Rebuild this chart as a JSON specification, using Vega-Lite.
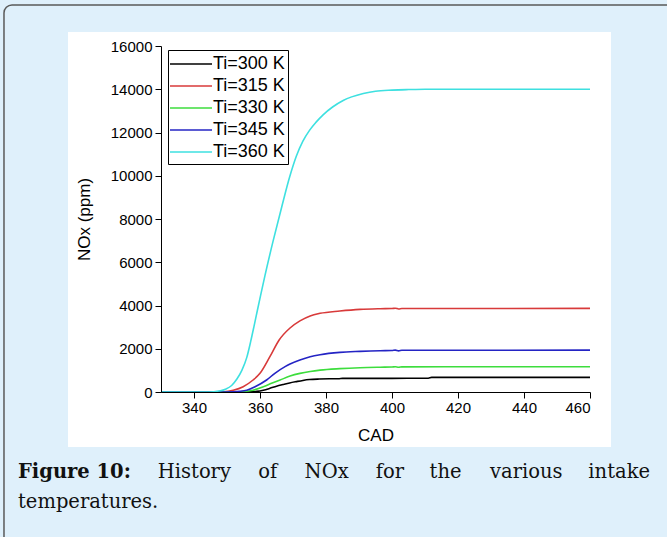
{
  "$schema": "https://vega.github.io/schema/vega-lite/v6.json",
  "width": 429,
  "height": 346,
  "autosize": {"type": "none"},
  "padding": {"left": 161, "top": 46, "right": 77, "bottom": 145},
  "background": "#dff0fb",
  "config": {"view": {"stroke": null}, "font": "Liberation Sans", "axis": {"titleFontWeight": "normal", "labelFontWeight": "normal"}},
  "layer": [
    {
      "data": {"values": [{}]},
      "mark": {"type": "rect", "fill": "white", "clip": false},
      "encoding": {
        "x": {"datum": 301.82, "type": "quantitative", "scale": {"domain": [330, 460], "nice": false, "zero": false}},
        "x2": {"datum": 466.36},
        "y": {"datum": 16647, "type": "quantitative", "scale": {"domain": [0, 16000], "nice": false, "zero": false}},
        "y2": {"datum": -2543}
      }
    },
    {
      "data": {"values": [
        {"cad": 330, "nox": 0, "series": "Ti=300 K"},
        {"cad": 345, "nox": 0, "series": "Ti=300 K"},
        {"cad": 355, "nox": 0, "series": "Ti=300 K"},
        {"cad": 357, "nox": 6, "series": "Ti=300 K"},
        {"cad": 359, "nox": 30, "series": "Ti=300 K"},
        {"cad": 361, "nox": 85, "series": "Ti=300 K"},
        {"cad": 363, "nox": 170, "series": "Ti=300 K"},
        {"cad": 365, "nox": 265, "series": "Ti=300 K"},
        {"cad": 367, "nox": 345, "series": "Ti=300 K"},
        {"cad": 369, "nox": 420, "series": "Ti=300 K"},
        {"cad": 371, "nox": 480, "series": "Ti=300 K"},
        {"cad": 373, "nox": 535, "series": "Ti=300 K"},
        {"cad": 375, "nox": 575, "series": "Ti=300 K"},
        {"cad": 378, "nox": 600, "series": "Ti=300 K"},
        {"cad": 381, "nox": 612, "series": "Ti=300 K"},
        {"cad": 384, "nox": 615, "series": "Ti=300 K"},
        {"cad": 385, "nox": 628, "series": "Ti=300 K"},
        {"cad": 400, "nox": 632, "series": "Ti=300 K"},
        {"cad": 411, "nox": 635, "series": "Ti=300 K"},
        {"cad": 412, "nox": 675, "series": "Ti=300 K"},
        {"cad": 430, "nox": 677, "series": "Ti=300 K"},
        {"cad": 460, "nox": 678, "series": "Ti=300 K"},

        {"cad": 330, "nox": 0, "series": "Ti=315 K"},
        {"cad": 346, "nox": 0, "series": "Ti=315 K"},
        {"cad": 349, "nox": 8, "series": "Ti=315 K"},
        {"cad": 351.9, "nox": 80, "series": "Ti=315 K"},
        {"cad": 354.9, "nox": 245, "series": "Ti=315 K"},
        {"cad": 357.9, "nox": 555, "series": "Ti=315 K"},
        {"cad": 360, "nox": 864, "series": "Ti=315 K"},
        {"cad": 363, "nox": 1635, "series": "Ti=315 K"},
        {"cad": 365.8, "nox": 2405, "series": "Ti=315 K"},
        {"cad": 369.1, "nox": 2960, "series": "Ti=315 K"},
        {"cad": 372.1, "nox": 3290, "series": "Ti=315 K"},
        {"cad": 375.2, "nox": 3520, "series": "Ti=315 K"},
        {"cad": 378.2, "nox": 3638, "series": "Ti=315 K"},
        {"cad": 384.2, "nox": 3746, "series": "Ti=315 K"},
        {"cad": 390.3, "nox": 3823, "series": "Ti=315 K"},
        {"cad": 396.4, "nox": 3852, "series": "Ti=315 K"},
        {"cad": 400, "nox": 3860, "series": "Ti=315 K"},
        {"cad": 401, "nox": 3875, "series": "Ti=315 K"},
        {"cad": 402, "nox": 3838, "series": "Ti=315 K"},
        {"cad": 403, "nox": 3860, "series": "Ti=315 K"},
        {"cad": 420, "nox": 3862, "series": "Ti=315 K"},
        {"cad": 460, "nox": 3865, "series": "Ti=315 K"},

        {"cad": 330, "nox": 0, "series": "Ti=330 K"},
        {"cad": 350, "nox": 0, "series": "Ti=330 K"},
        {"cad": 353, "nox": 3, "series": "Ti=330 K"},
        {"cad": 355, "nox": 20, "series": "Ti=330 K"},
        {"cad": 357.9, "nox": 85, "series": "Ti=330 K"},
        {"cad": 361, "nox": 245, "series": "Ti=330 K"},
        {"cad": 363.5, "nox": 400, "series": "Ti=330 K"},
        {"cad": 366.1, "nox": 555, "series": "Ti=330 K"},
        {"cad": 369.1, "nox": 735, "series": "Ti=330 K"},
        {"cad": 372.1, "nox": 860, "series": "Ti=330 K"},
        {"cad": 375.2, "nox": 950, "series": "Ti=330 K"},
        {"cad": 378.2, "nox": 1012, "series": "Ti=330 K"},
        {"cad": 384.2, "nox": 1079, "series": "Ti=330 K"},
        {"cad": 390.3, "nox": 1122, "series": "Ti=330 K"},
        {"cad": 396.4, "nox": 1145, "series": "Ti=330 K"},
        {"cad": 400, "nox": 1155, "series": "Ti=330 K"},
        {"cad": 401, "nox": 1168, "series": "Ti=330 K"},
        {"cad": 402, "nox": 1145, "series": "Ti=330 K"},
        {"cad": 403, "nox": 1160, "series": "Ti=330 K"},
        {"cad": 420, "nox": 1165, "series": "Ti=330 K"},
        {"cad": 460, "nox": 1168, "series": "Ti=330 K"},

        {"cad": 330, "nox": 0, "series": "Ti=345 K"},
        {"cad": 349, "nox": 0, "series": "Ti=345 K"},
        {"cad": 352, "nox": 6, "series": "Ti=345 K"},
        {"cad": 354, "nox": 30, "series": "Ti=345 K"},
        {"cad": 356, "nox": 85, "series": "Ti=345 K"},
        {"cad": 358.5, "nox": 245, "series": "Ti=345 K"},
        {"cad": 362, "nox": 555, "series": "Ti=345 K"},
        {"cad": 364.5, "nox": 864, "series": "Ti=345 K"},
        {"cad": 367.6, "nox": 1173, "series": "Ti=345 K"},
        {"cad": 369.1, "nox": 1294, "series": "Ti=345 K"},
        {"cad": 372.1, "nox": 1480, "series": "Ti=345 K"},
        {"cad": 375.2, "nox": 1630, "series": "Ti=345 K"},
        {"cad": 378.2, "nox": 1725, "series": "Ti=345 K"},
        {"cad": 384.2, "nox": 1834, "series": "Ti=345 K"},
        {"cad": 390.3, "nox": 1880, "series": "Ti=345 K"},
        {"cad": 396.4, "nox": 1911, "series": "Ti=345 K"},
        {"cad": 400, "nox": 1920, "series": "Ti=345 K"},
        {"cad": 401, "nox": 1938, "series": "Ti=345 K"},
        {"cad": 402, "nox": 1900, "series": "Ti=345 K"},
        {"cad": 403, "nox": 1930, "series": "Ti=345 K"},
        {"cad": 420, "nox": 1932, "series": "Ti=345 K"},
        {"cad": 460, "nox": 1935, "series": "Ti=345 K"},

        {"cad": 330, "nox": 0, "series": "Ti=360 K"},
        {"cad": 343, "nox": 0, "series": "Ti=360 K"},
        {"cad": 346, "nox": 12, "series": "Ti=360 K"},
        {"cad": 348, "nox": 55, "series": "Ti=360 K"},
        {"cad": 349.5, "nox": 130, "series": "Ti=360 K"},
        {"cad": 351.4, "nox": 300, "series": "Ti=360 K"},
        {"cad": 353, "nox": 600, "series": "Ti=360 K"},
        {"cad": 354.5, "nox": 1000, "series": "Ti=360 K"},
        {"cad": 356, "nox": 1600, "series": "Ti=360 K"},
        {"cad": 357.2, "nox": 2350, "series": "Ti=360 K"},
        {"cad": 358.2, "nox": 3050, "series": "Ti=360 K"},
        {"cad": 359.2, "nox": 3770, "series": "Ti=360 K"},
        {"cad": 360.2, "nox": 4480, "series": "Ti=360 K"},
        {"cad": 361.5, "nox": 5380, "series": "Ti=360 K"},
        {"cad": 364, "nox": 7000, "series": "Ti=360 K"},
        {"cad": 366.6, "nox": 8569, "series": "Ti=360 K"},
        {"cad": 369, "nox": 9950, "series": "Ti=360 K"},
        {"cad": 371, "nox": 10900, "series": "Ti=360 K"},
        {"cad": 373, "nox": 11600, "series": "Ti=360 K"},
        {"cad": 375, "nox": 12100, "series": "Ti=360 K"},
        {"cad": 377, "nox": 12480, "series": "Ti=360 K"},
        {"cad": 379.2, "nox": 12830, "series": "Ti=360 K"},
        {"cad": 382, "nox": 13180, "series": "Ti=360 K"},
        {"cad": 385.2, "nox": 13480, "series": "Ti=360 K"},
        {"cad": 391.3, "nox": 13800, "series": "Ti=360 K"},
        {"cad": 395, "nox": 13910, "series": "Ti=360 K"},
        {"cad": 400, "nox": 13960, "series": "Ti=360 K"},
        {"cad": 405, "nox": 13985, "series": "Ti=360 K"},
        {"cad": 410, "nox": 14000, "series": "Ti=360 K"},
        {"cad": 460, "nox": 14000, "series": "Ti=360 K"}
      ]},
      "mark": {"type": "line", "strokeWidth": 1.6, "interpolate": "monotone"},
      "encoding": {
        "x": {"field": "cad", "type": "quantitative", "scale": {"domain": [330, 460], "nice": false, "zero": false},
          "axis": {"orient": "bottom", "zindex": 2, "values": [340, 350, 360, 370, 380, 390, 400, 410, 420, 430, 440, 450, 460],
            "tickSize": {"condition": {"test": "datum.value % 20 === 0", "value": 6}, "value": 3},
            "labelExpr": "datum.value % 20 === 0 ? datum.label : ''",
            "labelFontSize": 15, "labelPadding": 2, "labelColor": "black", "title": "CAD", "titleFontSize": 17, "titleFontWeight": "normal", "titleColor": "black", "titlePadding": 12, "grid": false, "domainColor": "black", "tickColor": "black", "labelFont": "Liberation Sans", "titleFont": "Liberation Sans"}},
        "y": {"field": "nox", "type": "quantitative", "scale": {"domain": [0, 16000], "nice": false, "zero": false},
          "axis": {"orient": "left", "zindex": 2, "values": [0, 1000, 2000, 3000, 4000, 5000, 6000, 7000, 8000, 9000, 10000, 11000, 12000, 13000, 14000, 15000, 16000],
            "tickSize": {"condition": {"test": "datum.value % 2000 === 0", "value": 6}, "value": 3},
            "labelExpr": "datum.value % 2000 === 0 ? datum.label : ''",
            "labelFontSize": 15, "labelPadding": 3, "labelColor": "black", "title": "NOx (ppm)", "titleFontSize": 17, "titleFontWeight": "normal", "titleColor": "black", "titlePadding": 17, "grid": false, "domainColor": "black", "tickColor": "black", "labelFont": "Liberation Sans", "titleFont": "Liberation Sans", "format": "d"}},
        "color": {"field": "series", "type": "nominal",
          "scale": {"domain": ["Ti=300 K", "Ti=315 K", "Ti=330 K", "Ti=345 K", "Ti=360 K"], "range": ["#000000", "#d83a3a", "#3ddd3d", "#2424c4", "#3ee0e0"]},
          "legend": {"title": null, "orient": "none", "legendX": 7, "legendY": 4, "zindex": 3, "symbolType": "M-2.1,0H2.1", "symbolSize": 400, "symbolStrokeWidth": 1.6, "symbolOffset": 9, "labelFontSize": 18, "labelFont": "Liberation Sans", "labelColor": "black", "strokeColor": "black", "fillColor": "white", "padding": 3, "rowPadding": 2, "labelOffset": 11, "labelLimit": 200}}
      }
    },
    {
      "data": {"values": [{}]},
      "mark": {"type": "text", "text": "Figure 10:", "font": "DejaVu Serif", "fontSize": 19.5, "fontWeight": "bold", "align": "left", "baseline": "alphabetic", "clip": false, "color": "#111111"},
      "encoding": {"x": {"datum": 286.67, "type": "quantitative"}, "y": {"datum": -3977, "type": "quantitative"}}
    },
    {
      "data": {"values": [{}]},
      "mark": {"type": "text", "text": "History", "font": "DejaVu Serif", "fontSize": 19.5, "align": "left", "baseline": "alphabetic", "clip": false, "color": "#111111"},
      "encoding": {"x": {"datum": 329.03, "type": "quantitative"}, "y": {"datum": -3977, "type": "quantitative"}}
    },
    {
      "data": {"values": [{}]},
      "mark": {"type": "text", "text": "of", "font": "DejaVu Serif", "fontSize": 19.5, "align": "left", "baseline": "alphabetic", "clip": false, "color": "#111111"},
      "encoding": {"x": {"datum": 359.48, "type": "quantitative"}, "y": {"datum": -3977, "type": "quantitative"}}
    },
    {
      "data": {"values": [{}]},
      "mark": {"type": "text", "text": "NOx", "font": "DejaVu Serif", "fontSize": 19.5, "align": "left", "baseline": "alphabetic", "clip": false, "color": "#111111"},
      "encoding": {"x": {"datum": 373.52, "type": "quantitative"}, "y": {"datum": -3977, "type": "quantitative"}}
    },
    {
      "data": {"values": [{}]},
      "mark": {"type": "text", "text": "for", "font": "DejaVu Serif", "fontSize": 19.5, "align": "left", "baseline": "alphabetic", "clip": false, "color": "#111111"},
      "encoding": {"x": {"datum": 395.09, "type": "quantitative"}, "y": {"datum": -3977, "type": "quantitative"}}
    },
    {
      "data": {"values": [{}]},
      "mark": {"type": "text", "text": "the", "font": "DejaVu Serif", "fontSize": 19.5, "align": "left", "baseline": "alphabetic", "clip": false, "color": "#111111"},
      "encoding": {"x": {"datum": 411.39, "type": "quantitative"}, "y": {"datum": -3977, "type": "quantitative"}}
    },
    {
      "data": {"values": [{}]},
      "mark": {"type": "text", "text": "various", "font": "DejaVu Serif", "fontSize": 19.5, "align": "left", "baseline": "alphabetic", "clip": false, "color": "#111111"},
      "encoding": {"x": {"datum": 429.7, "type": "quantitative"}, "y": {"datum": -3977, "type": "quantitative"}}
    },
    {
      "data": {"values": [{}]},
      "mark": {"type": "text", "text": "intake", "font": "DejaVu Serif", "fontSize": 19.5, "align": "right", "baseline": "alphabetic", "clip": false, "color": "#111111"},
      "encoding": {"x": {"datum": 478.18, "type": "quantitative"}, "y": {"datum": -3977, "type": "quantitative"}}
    },
    {
      "data": {"values": [{}]},
      "mark": {"type": "text", "text": "temperatures.", "font": "DejaVu Serif", "fontSize": 19.5, "align": "left", "baseline": "alphabetic", "clip": false, "color": "#111111"},
      "encoding": {"x": {"datum": 286.67, "type": "quantitative"}, "y": {"datum": -5364, "type": "quantitative"}}
    },
    {
      "data": {"values": [{}]},
      "mark": {"type": "rect", "fillOpacity": 0, "stroke": "#5a5a5a", "strokeWidth": 1.5, "cornerRadius": 8, "clip": false},
      "encoding": {"x": {"datum": 282.42, "type": "quantitative"}, "x2": {"datum": 487.3}, "y": {"datum": 17896, "type": "quantitative"}, "y2": {"datum": -7769}}
    }
  ]
}
